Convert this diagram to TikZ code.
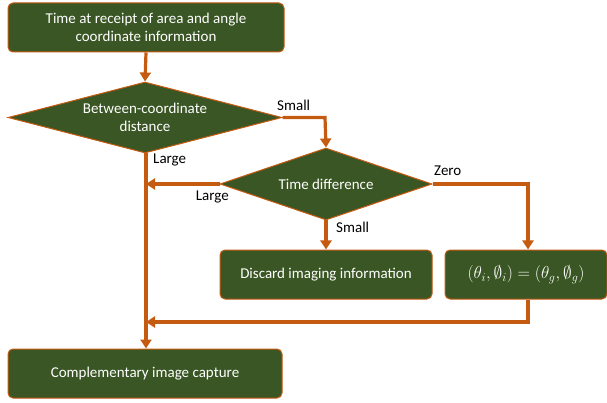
\documentclass[tikz,border=0pt]{standalone}
\usepackage{fontspec}
\setmainfont{Carlito}
\usetikzlibrary{shapes.geometric,arrows.meta}
\definecolor{boxgreen}{RGB}{58,86,36}
\definecolor{arrorange}{RGB}{197,90,17}
\tikzset{
  procbox/.style={draw=arrorange, line width=1pt, fill=boxgreen, rounded corners=5pt, text=white, align=center, font=\fontsize{15}{18.5}\selectfont, inner sep=0pt},
  decision/.style={diamond, draw=arrorange, line width=1pt, fill=boxgreen, text=white, align=center, font=\fontsize{15}{18.5}\selectfont, inner sep=0pt, aspect=3.8},
  flow/.style={draw=arrorange, line width=3.2pt, -{Triangle[width=11pt,length=9pt]}},
  lbl/.style={font=\fontsize{15}{18}\selectfont, text=black, inner sep=0pt}
}
\begin{document}
\begin{tikzpicture}[x=1pt,y=-1pt]
\useasboundingbox (0,0) rectangle (607,403);
\node[procbox, minimum width=276pt, minimum height=49pt] (start) at (146,27.5) {Time at receipt of area and angle\\coordinate information};
\node[decision, minimum width=274pt, minimum height=71pt] (d1) at (145,117.5) {Between-coordinate\\distance};
\node[decision, minimum width=212pt, minimum height=72pt] (d2) at (326,184) {Time difference};
\node[procbox, minimum width=212pt, minimum height=49pt] (discard) at (326,274.5) {Discard imaging information};
\node[procbox, minimum width=162pt, minimum height=49pt, font=\fontsize{17}{20}\selectfont] (eq) at (526,274.5) {$(\theta_i,\emptyset_i)=(\theta_g,\emptyset_g)$};
\node[procbox, minimum width=274pt, minimum height=49pt] (comp) at (145,373.5) {Complementary image capture};

\coordinate (c1) at (325,117.5);
\coordinate (c2) at (528,184);
\coordinate (c3) at (528,322);
\coordinate (j1) at (146,184);
\coordinate (j2) at (146,322);

\draw[flow] (start.south) -- (d1.north);
\draw[flow] (d1.east) -- (c1) -- (d2.north);
\draw[flow] (d2.east) -- (c2) -- (eq.north -| c2);
\draw[flow] (d2.south) -- (discard.north);
\draw[flow] (d2.west) -- (j1);
\draw[flow] (d1.south -| j1) -- (comp.north -| j1);
\draw[flow] (eq.south -| c3) -- (c3) -- (j2);

\node[lbl, anchor=south west] (small1) at (277,111) {Small};
\node[lbl, anchor=west] (large1) at (153,160) {Large};
\node[lbl, anchor=south west] (zero) at (434,176) {Zero};
\node[lbl, anchor=east] (large2) at (229,197) {Large};
\node[lbl, anchor=west] (small2) at (336,227) {Small};
\end{tikzpicture}
\end{document}
